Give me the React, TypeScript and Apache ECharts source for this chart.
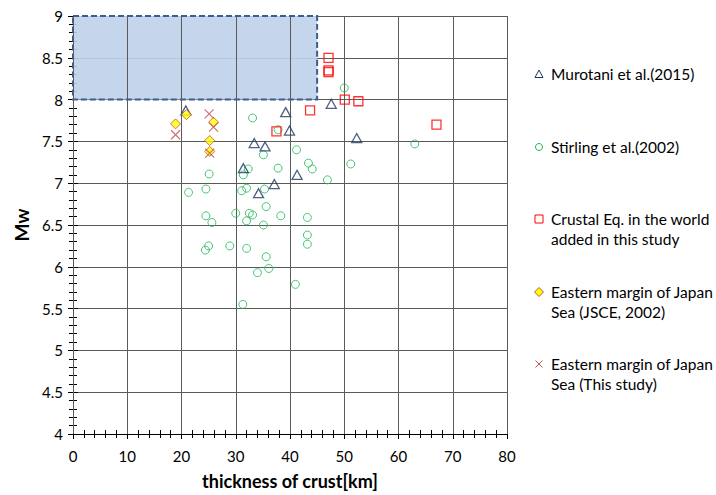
import React, { useEffect, useRef } from "react";
import * as echarts from "echarts";

// ---- data ----
const murotani: number[][] = [
  [20.8, 7.87], [39.2, 7.85], [39.9, 7.63], [33.4, 7.48], [35.4, 7.44], [47.6, 7.95],
  [52.3, 7.54], [41.3, 7.10], [31.4, 7.18], [37.1, 6.99], [34.2, 6.88],
];
const stirling: number[][] = [
  [33.1, 7.78], [37.8, 7.64], [35.1, 7.34], [41.2, 7.40], [50.0, 8.14], [63.0, 7.47],
  [43.4, 7.24], [44.1, 7.17], [46.9, 7.04], [37.8, 7.18], [32.3, 7.17], [31.4, 7.10],
  [25.1, 7.11], [35.3, 6.93], [32.0, 6.94], [31.1, 6.91], [24.5, 6.93], [21.3, 6.89],
  [35.6, 6.72], [30.0, 6.64], [32.5, 6.64], [33.1, 6.62], [32.0, 6.55], [38.3, 6.61],
  [24.5, 6.61], [25.6, 6.53], [35.1, 6.50], [43.2, 6.59], [43.2, 6.38], [43.2, 6.27],
  [51.2, 7.23], [25.0, 6.25], [24.4, 6.20], [28.9, 6.25], [32.0, 6.22], [35.6, 6.12],
  [36.1, 5.98], [34.0, 5.93], [41.0, 5.79], [31.3, 5.55],
];
const crustal: number[][] = [
  [47.1, 8.50], [47.1, 8.35], [47.1, 8.33], [50.1, 8.00], [52.6, 7.98], [43.7, 7.87],
  [37.5, 7.62], [67.0, 7.70],
];
const jsce: number[][] = [
  [20.9, 7.82], [18.9, 7.71], [25.9, 7.73], [25.2, 7.51], [25.2, 7.38],
];
const thisStudy: number[][] = [
  [18.9, 7.58], [25.1, 7.83], [25.9, 7.67], [25.2, 7.36],
];
const shadeX = [0, 45];
const shadeY = [8, 9];
const xRange = [0, 80, 10];
const yRange = [4, 9, 0.5];

const legendItems = [
  { key: "tri", lines: ["Murotani et al.(2015)"] },
  { key: "cir", lines: ["Stirling et al.(2002)"] },
  { key: "sq", lines: ["Crustal Eq. in the world", "added in this study"] },
  { key: "dia", lines: ["Eastern margin of Japan", "Sea (JSCE, 2002)"] },
  { key: "x", lines: ["Eastern margin of Japan", "Sea (This study)"] },
];

const FONT = "Lato, 'Open Sans', sans-serif";
const NAVY = "#1f3864";
const GREEN = "#1db954";
const RED = "#ff0000";
const BROWN = "#c0504d";
const XPATH = "path://M0,0L10,10M10,0L0,10";

export default function App() {
  const ref = useRef<HTMLDivElement>(null);
  useEffect(() => {
    if (!ref.current) return;
    const chart = echarts.init(ref.current, null, { renderer: "svg" });

    const axisCommon = (min: number, max: number, interval: number) => ({
      type: "value" as const,
      min,
      max,
      interval,
      axisLine: { show: true, onZero: false, lineStyle: { color: "#000", width: 1 } },
    });

    const legendGraphics: any[] = [];
    const legendTop = [74, 147, 219, 292, 364];
    legendItems.forEach((it, i) => {
      const cy = legendTop[i];
      const cx = 539;
      if (it.key === "tri") {
        legendGraphics.push({ type: "polygon", shape: { points: [[cx, cy - 4], [cx + 4, cy + 3.5], [cx - 4, cy + 3.5]] }, style: { fill: "none", stroke: NAVY, lineWidth: 1 } });
      } else if (it.key === "cir") {
        legendGraphics.push({ type: "circle", shape: { cx, cy, r: 3.5 }, style: { fill: "none", stroke: GREEN, lineWidth: 1 } });
      } else if (it.key === "sq") {
        legendGraphics.push({ type: "rect", shape: { x: cx - 4, y: cy - 4, width: 8, height: 8 }, style: { fill: "none", stroke: RED, lineWidth: 1 } });
      } else if (it.key === "dia") {
        legendGraphics.push({ type: "polygon", shape: { points: [[cx, cy - 4.5], [cx + 4.5, cy], [cx, cy + 4.5], [cx - 4.5, cy]] }, style: { fill: "#ffff00", stroke: BROWN, lineWidth: 1 } });
      } else {
        legendGraphics.push({ type: "line", shape: { x1: cx - 3.5, y1: cy - 3.5, x2: cx + 3.5, y2: cy + 3.5 }, style: { stroke: BROWN, lineWidth: 1 } });
        legendGraphics.push({ type: "line", shape: { x1: cx + 3.5, y1: cy - 3.5, x2: cx - 3.5, y2: cy + 3.5 }, style: { stroke: BROWN, lineWidth: 1 } });
      }
      it.lines.forEach((ln, j) => {
        legendGraphics.push({
          type: "text",
          x: 551,
          y: cy + j * 20,
          style: { text: ln, fill: "#000", font: `15.5px ${FONT}`, textVerticalAlign: "middle", textAlign: "left" },
        });
      });
    });

    chart.setOption({
      animation: false,
      backgroundColor: "#fff",
      grid: { left: 73, right: 209, top: 16, bottom: 58, containLabel: false },
      xAxis: [
        {
          ...axisCommon(xRange[0], xRange[1], xRange[2]),
          position: "bottom",
          name: "thickness of crust[km]",
          nameLocation: "middle",
          nameGap: 38,
          nameTextStyle: { fontFamily: FONT, fontWeight: "bold", fontSize: 18, color: "#000" },
          axisLabel: { show: true, fontFamily: FONT, fontSize: 15, color: "#000", margin: 14 },
          axisTick: { show: true, inside: false, length: 5, lineStyle: { color: "#000" } },
          minorTick: { show: true, splitNumber: 5, length: 4, lineStyle: { color: "#000" } },
          splitLine: { show: true, lineStyle: { color: "#5a5a5a", width: 1 } },
          z: 3,
        },
        {
          ...axisCommon(xRange[0], xRange[1], xRange[2]),
          position: "bottom",
          axisLabel: { show: false },
          axisTick: { show: true, inside: true, length: 5, lineStyle: { color: "#000" } },
          minorTick: { show: true, splitNumber: 5, length: 4, lineStyle: { color: "#000" } },
          splitLine: { show: false },
        },
      ],
      yAxis: [
        {
          ...axisCommon(yRange[0], yRange[1], yRange[2]),
          position: "left",
          name: "Mw",
          nameLocation: "middle",
          nameGap: 38,
          nameRotate: 90,
          nameTextStyle: { fontFamily: FONT, fontWeight: "bold", fontSize: 19, color: "#000" },
          axisLabel: { show: true, fontFamily: FONT, fontSize: 15, color: "#000", margin: 10 },
          axisTick: { show: true, inside: false, length: 5, lineStyle: { color: "#000" } },
          minorTick: { show: true, splitNumber: 5, length: 4, lineStyle: { color: "#000" } },
          splitLine: { show: true, lineStyle: { color: "#5a5a5a", width: 1 } },
        },
        {
          ...axisCommon(yRange[0], yRange[1], yRange[2]),
          position: "left",
          axisLabel: { show: false },
          axisTick: { show: true, inside: true, length: 5, lineStyle: { color: "#000" } },
          minorTick: { show: true, splitNumber: 5, length: 4, lineStyle: { color: "#000" } },
          splitLine: { show: false },
        },
      ],
      graphic: legendGraphics,
      series: [
        {
          type: "scatter",
          name: "shade",
          data: [],
          z: 1,
          markArea: {
            silent: true,
            itemStyle: {
              color: "rgba(190,208,234,0.9)",
              borderColor: "#3a5f8f",
              borderWidth: 2,
              borderType: [6, 3],
            },
            data: [[{ coord: [shadeX[0], shadeY[1]] }, { coord: [shadeX[1], shadeY[0]] }]],
          },
        },
        {
          type: "scatter",
          name: "Stirling et al.(2002)",
          data: stirling,
          symbol: "circle",
          symbolSize: 8,
          itemStyle: { color: "rgba(255,255,255,0)", borderColor: GREEN, borderWidth: 1 },
          z: 4,
        },
        {
          type: "scatter",
          name: "Murotani et al.(2015)",
          data: murotani,
          symbol: "triangle",
          symbolSize: [10, 9],
          itemStyle: { color: "rgba(255,255,255,0)", borderColor: NAVY, borderWidth: 1.3 },
          z: 5,
        },
        {
          type: "scatter",
          name: "Crustal Eq. in the world added in this study",
          data: crustal,
          symbol: "rect",
          symbolSize: 9,
          itemStyle: { color: "rgba(255,255,255,0)", borderColor: RED, borderWidth: 1.3 },
          z: 5,
        },
        {
          type: "scatter",
          name: "Eastern margin of Japan Sea (JSCE, 2002)",
          data: jsce,
          symbol: "diamond",
          symbolSize: 10,
          itemStyle: { color: "#ffff00", borderColor: BROWN, borderWidth: 1 },
          z: 6,
        },
        {
          type: "scatter",
          name: "Eastern margin of Japan Sea (This study)",
          data: thisStudy,
          symbol: XPATH,
          symbolSize: 9,
          itemStyle: { color: "rgba(255,255,255,0)", borderColor: BROWN, borderWidth: 1.2 },
          z: 7,
        },
      ],
    });
    return () => chart.dispose();
  }, []);
  return <div ref={ref} style={{ width: 716, height: 495, position: "absolute", left: 0, top: 0 }} />;
}
